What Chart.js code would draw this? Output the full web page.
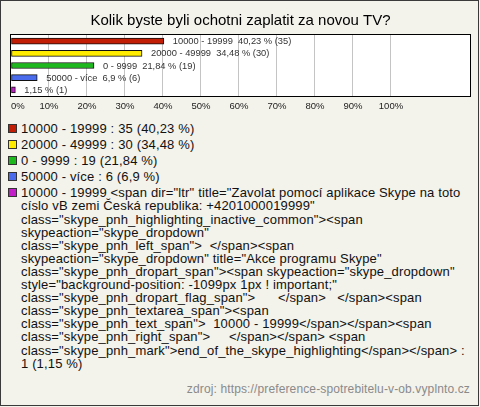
<!DOCTYPE html>
<html>
<head>
<meta charset="utf-8">
<script src="https://cdn.jsdelivr.net/npm/chart.js@4"></script>
<style>
  body { margin: 0; background: #f3f2eb; width: 480px; height: 407px; overflow: hidden; position: relative; font-family: "Liberation Sans", Arial, sans-serif; }
  #frame { position: absolute; left: 0; top: 0; width: 477px; height: 404px; border: 1px solid #3a3a3a; pointer-events: none; }
  #graf { position: absolute; left: 0; top: 0; }
  #legenda { position: absolute; left: 8px; top: 122px; width: 462px; }
  .polozka { display: flex; align-items: flex-start; margin-bottom: 3px; }
  .ctverec { flex: none; width: 9px; height: 9px; box-sizing: border-box; border: 1px solid #333; margin-top: 2px; margin-right: 4px; }
  .text { font-size: 13px; line-height: 13.1px; letter-spacing: 0.15px; color: #111; }
  .slovo { white-space: nowrap; }
  #zdroj { position: absolute; right: 10px; top: 382px; font-size: 12px; line-height: 14px; letter-spacing: 0.13px; color: #8a8a8a; }
</style>
</head>
<body>
<canvas id="graf" width="480" height="115"></canvas>
<div id="legenda"></div>
<div id="zdroj">zdroj: https://preference-spotrebitelu-v-ob.vyplnto.cz</div>
<div id="frame"></div>
<script>
const nadpis = "Kolik byste byli ochotni zaplatit za novou TV?";
// popisky u sloupcu (posledni je v originale HTML balast, proto prazdny)
const kategorie = ["10000 - 19999", "20000 - 49999", "0 - 9999", "50000 - více", ""];
const pocty = [35, 30, 19, 6, 1];
const procenta = [40.23, 34.48, 21.84, 6.9, 1.15];
const barvy = ["#c21d05", "#ffec00", "#1db81d", "#4a6cec", "#c21fc8"];
const popiskyOsy = [0, 10, 20, 30, 40, 50, 60, 70, 80, 90, 100];
// mezery uvnitr spanu jsou nezlomitelne (&nbsp;)
const legendaPopisky = [
  "10000 - 19999",
  "20000 - 49999",
  "0 - 9999",
  "50000 - více",
  '10000 - 19999 <span dir="ltr" title="Zavolat pomocí aplikace Skype na toto císlo vB zemi Česká republika: +4201000019999" class="skype_pnh_highlighting_inactive_common"><span skypeaction="skype_dropdown" class="skype_pnh_left_span">\u00a0\u00a0</span><span skypeaction="skype_dropdown" title="Akce programu Skype" class="skype_pnh_dropart_span"><span skypeaction="skype_dropdown" style="background-position: -1099px 1px ! important;" class="skype_pnh_dropart_flag_span">\u00a0\u00a0\u00a0\u00a0\u00a0\u00a0</span>\u00a0\u00a0\u00a0</span><span class="skype_pnh_textarea_span"><span class="skype_pnh_text_span">\u00a0\u00a010000 - 19999</span></span><span class="skype_pnh_right_span">\u00a0\u00a0\u00a0\u00a0\u00a0</span></span> <span class="skype_pnh_mark">end_of_the_skype_highlighting</span></span>'
];

function carka(n) {
  return String(n).replace(".", ",");
}

////// ramecek a bile pozadi plochy grafu //////
const plocha = {
  id: "plocha",
  beforeDraw(chart) {
    let { ctx, chartArea: a } = chart;
    ctx.save();
    ctx.fillStyle = "#ffffff";
    ctx.fillRect(a.left, a.top, a.width, a.height);
    ctx.restore();
  },
  afterDraw(chart) {
    let { ctx, chartArea: a } = chart;
    ctx.save();
    ctx.strokeStyle = "#000";
    ctx.lineWidth = 1;
    ctx.strokeRect(a.left - 0.5, a.top - 0.5, a.width + 1, a.height + 1);
    ctx.restore();
  }
};

////// popisky vedle sloupcu //////
const popisky = {
  id: "popisky",
  afterDatasetsDraw(chart) {
    let ctx = chart.ctx;
    let meta = chart.getDatasetMeta(0);
    ctx.save();
    ctx.font = "9.3px 'Liberation Sans', Arial, sans-serif";
    ctx.fillStyle = "#333";
    ctx.textBaseline = "middle";
    meta.data.forEach((bar, i) => {
      let t = carka(procenta[i]) + " % (" + pocty[i] + ")";
      if (kategorie[i]) t = kategorie[i] + "  " + t;
      ctx.fillText(t, bar.x + 9, bar.y + 0.5);
    });
    ctx.restore();
  }
};

const config = {
  type: "bar",
  data: {
    labels: kategorie,
    datasets: [{
      data: procenta,
      backgroundColor: barvy,
      borderColor: "#111",
      borderWidth: 1,
      borderSkipped: false,
      barThickness: 6
    }]
  },
  options: {
    indexAxis: "y",
    responsive: false,
    animation: false,
    layout: { padding: { left: 11, right: 10, top: 0, bottom: 0 } },
    plugins: {
      legend: { display: false },
      tooltip: { enabled: false },
      title: {
        display: true,
        text: nadpis,
        color: "#000",
        font: { family: "'Liberation Sans', Arial, sans-serif", size: 15, weight: "normal" },
        padding: { top: 12, bottom: 5 }
      }
    },
    scales: {
      x: {
        min: 0,
        max: 120.8,
        border: { display: false },
        grid: {
          drawTicks: false,
          color: (c) => (c.tick && c.tick.value > 0 && popiskyOsy.includes(c.tick.value) ? "#c4c4c4" : "rgba(0,0,0,0)")
        },
        ticks: {
          stepSize: 10,
          align: "inner",
          padding: 5,
          color: "#222",
          font: { family: "'Liberation Sans', Arial, sans-serif", size: 9.5 },
          maxRotation: 0,
          autoSkip: false,
          callback: (v) => (popiskyOsy.includes(v) ? v + "%" : "")
        },
        afterFit: (s) => { s.height = 19; }
      },
      y: { display: false }
    }
  },
  plugins: [plocha, popisky]
};

let myChart = new Chart(document.getElementById("graf"), config);

////// legenda pod grafem //////
// zalamovat jen na obycejnych mezerach
function slova(el, text) {
  text.split(" ").forEach((w, k) => {
    if (k > 0) el.appendChild(document.createTextNode(" "));
    let s = document.createElement("span");
    s.className = "slovo";
    s.textContent = w;
    el.appendChild(s);
  });
}

function renderLegenda() {
  let box = document.getElementById("legenda");
  legendaPopisky.forEach((lbl, i) => {
    let row = document.createElement("div");
    row.className = "polozka";
    let sq = document.createElement("div");
    sq.className = "ctverec";
    sq.style.background = barvy[i];
    let tx = document.createElement("div");
    tx.className = "text";
    slova(tx, lbl + " :");
    tx.appendChild(document.createTextNode(" "));
    let hodnota = document.createElement("span");
    hodnota.className = "slovo";
    hodnota.textContent = pocty[i] + " (" + carka(procenta[i]) + " %)";
    tx.appendChild(hodnota);
    row.appendChild(sq);
    row.appendChild(tx);
    box.appendChild(row);
  });
}
renderLegenda();
</script>
</body>
</html>
